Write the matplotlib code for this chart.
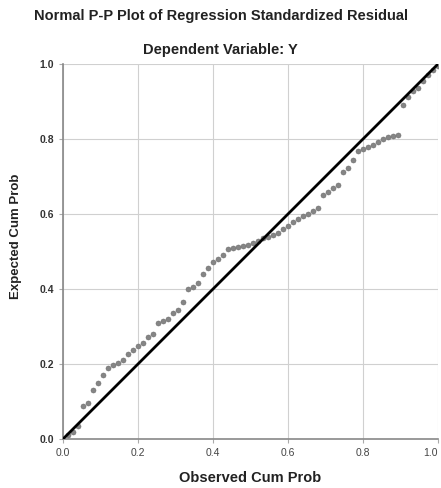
import matplotlib
matplotlib.use("Agg")
import matplotlib.pyplot as plt

plt.rcParams["font.family"] = ["Liberation Sans", "DejaVu Sans"]

observed = [i / 75 for i in range(1, 76)]
expected = [0.010, 0.018, 0.035, 0.088, 0.095, 0.130, 0.150, 0.170, 0.190, 0.198,
            0.203, 0.210, 0.228, 0.238, 0.248, 0.255, 0.272, 0.280, 0.310, 0.315,
            0.320, 0.335, 0.345, 0.365, 0.400, 0.405, 0.415, 0.440, 0.455, 0.472,
            0.480, 0.490, 0.507, 0.510, 0.512, 0.515, 0.518, 0.522, 0.527, 0.535,
            0.540, 0.545, 0.550, 0.560, 0.568, 0.578, 0.588, 0.595, 0.600, 0.608,
            0.615, 0.650, 0.660, 0.668, 0.678, 0.712, 0.722, 0.745, 0.768, 0.773,
            0.778, 0.785, 0.792, 0.800, 0.805, 0.808, 0.810, 0.890, 0.912, 0.928,
            0.935, 0.955, 0.972, 0.985, 0.995]
ticks = [0.0, 0.2, 0.4, 0.6, 0.8, 1.0]
tick_labels = ["0.0", "0.2", "0.4", "0.6", "0.8", "1.0"]

fig = plt.figure(figsize=(4.41, 4.88), dpi=100)
ax = fig.add_axes([63 / 441, 49 / 488, 375 / 441, 375 / 488])

ax.scatter(observed, expected, s=13, c="#858585", edgecolors="#707070", linewidths=0.4, zorder=3)
ax.plot([0, 1], [0, 1], color="black", linewidth=2, zorder=4)

ax.set_xlim(0, 1)
ax.set_ylim(0, 1)
ax.set_xticks(ticks)
ax.set_yticks(ticks)
ax.set_xticklabels(tick_labels, fontsize=7.5, color="#444444")
ax.set_yticklabels(tick_labels, fontsize=7.5, color="#333333", fontweight="bold")
ax.get_xticklabels()[-1].set_horizontalalignment("right")
ax.grid(True, color="#d0d0d0", linewidth=0.8, zorder=0)
ax.tick_params(length=3, color="#aaaaaa", width=0.8)
for side in ["top", "right"]:
    ax.spines[side].set_visible(False)
for side in ["left", "bottom"]:
    ax.spines[side].set_color("#888888")
    ax.spines[side].set_linewidth(1.2)

ax.set_xlabel("Observed Cum Prob", fontsize=10.5, fontweight="bold", color="#222222")
ax.set_ylabel("Expected Cum Prob", fontsize=9.5, fontweight="bold", color="#222222")
ax.xaxis.set_label_coords(0.5, -0.085)
ax.yaxis.set_label_coords(-0.11, 0.54)

fig.text(0.5, 1 - 16 / 488, "Normal P-P Plot of Regression Standardized Residual",
         ha="center", va="center", fontsize=10.5, fontweight="bold", color="#222222")
fig.text(0.5, 1 - 50 / 488, "Dependent Variable: Y",
         ha="center", va="center", fontsize=10.5, fontweight="bold", color="#222222")

fig.savefig("out.png", dpi=100)
